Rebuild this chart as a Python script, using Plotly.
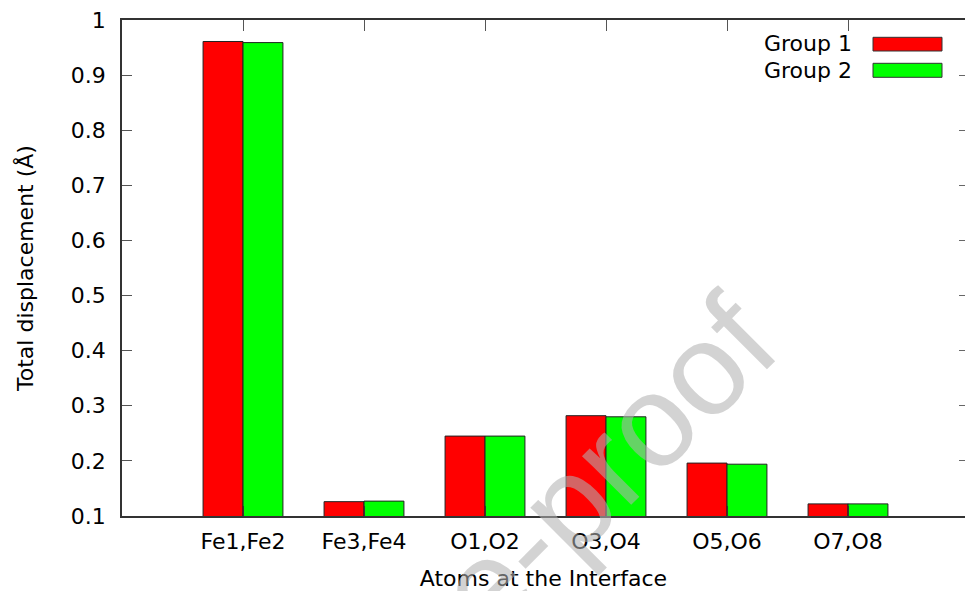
import plotly.graph_objects as go

categories = ["Fe1,Fe2", "Fe3,Fe4", "O1,O2", "O3,O4", "O5,O6", "O7,O8"]
group1 = [0.961, 0.126, 0.245, 0.282, 0.196, 0.122]
group2 = [0.959, 0.127, 0.245, 0.280, 0.194, 0.122]
series_names = ["Group 1", "Group 2"]
series_colors = ["#ff0000", "#00ff00"]
y_ticks = [0.1, 0.2, 0.3, 0.4, 0.5, 0.6, 0.7, 0.8, 0.9, 1.0]
y_tick_labels = ["0.1", "0.2", "0.3", "0.4", "0.5", "0.6", "0.7", "0.8", "0.9", "1"]

FONT = "DejaVu Sans"
W, H = 965, 591
L, R, T, B = 122, 0, 20, 75
pw, ph = W - L - R, H - T - B

def px(x):
    return (x - L) / pw

def py(y):
    return (H - B - y) / ph

fig = go.Figure()
for name, vals, col in zip(series_names, [group1, group2], series_colors):
    fig.add_trace(go.Bar(
        x=categories, y=vals, name=name,
        marker=dict(color=col, line=dict(color="#222222", width=1)),
        showlegend=False,
    ))

# invisible trace for top mirror axis
fig.add_trace(go.Scatter(x=[0], y=[0.1], xaxis="x2", yaxis="y2", mode="markers",
                         marker=dict(opacity=0), showlegend=False, hoverinfo="skip"))

xr = [-1, -1 + pw / 121.0]
axis_font = dict(family=FONT, size=22, color="black")

fig.update_layout(
    width=W, height=H,
    margin=dict(l=L, r=R, t=T, b=B),
    plot_bgcolor="white", paper_bgcolor="white",
    barmode="group", bargap=0.34, bargroupgap=0,
    font=axis_font,
    xaxis=dict(
        type="category", range=xr, showgrid=False, zeroline=False,
        showline=True, linecolor="#333333", linewidth=1.5,
        ticks="inside", ticklen=10, tickcolor="#333333",
        tickfont=axis_font, ticklabelstandoff=5,
        title=dict(text="Atoms at the Interface", font=axis_font, standoff=21),
    ),
    yaxis=dict(
        range=[0.1, 1.0], tickvals=y_ticks, ticktext=y_tick_labels,
        showgrid=False, zeroline=False,
        showline=True, linecolor="#333333", linewidth=1.5,
        ticks="inside", ticklen=10, tickcolor="#555555",
        tickfont=axis_font, ticklabelstandoff=10,
        title=dict(text="Total displacement (Å)", font=axis_font, standoff=31),
    ),
    xaxis2=dict(
        overlaying="x", side="top", range=xr, tickvals=list(range(len(categories))),
        showticklabels=False, showgrid=False, zeroline=False,
        showline=True, linecolor="#333333", linewidth=1.5,
        ticks="inside", ticklen=11, tickcolor="#555555",
    ),
    yaxis2=dict(
        overlaying="y", side="right", range=[0.1, 1.0], tickvals=y_ticks,
        showticklabels=False, showgrid=False, zeroline=False, showline=False,
        ticks="inside", ticklen=6, tickcolor="#666666",
    ),
)

# gnuplot-style key: text left of sample box
key_rows = [(44, 37.3, 51.0), (70, 63.3, 77.3)]
for (yc, y0, y1), name, col in zip(key_rows, series_names, series_colors):
    fig.add_annotation(x=px(854), y=py(yc), xref="paper", yref="paper",
                       text=name, showarrow=False, xanchor="right", yanchor="middle",
                       font=axis_font)
    fig.add_shape(type="rect", xref="paper", yref="paper",
                  x0=px(873), x1=px(942), y0=py(y1), y1=py(y0),
                  fillcolor=col, line=dict(color="#333333", width=1))

# watermark
fig.add_annotation(x=px(394), y=py(677), xref="paper", yref="paper",
                   text="Journal Pre-proof", showarrow=False, textangle=-45,
                   xanchor="center", yanchor="middle",
                   font=dict(family="Liberation Sans", size=131, color="rgba(177,177,177,0.57)"))

fig.write_html("out.html", config={"displayModeBar": False},
               post_script="document.body.style.margin='0px';")
